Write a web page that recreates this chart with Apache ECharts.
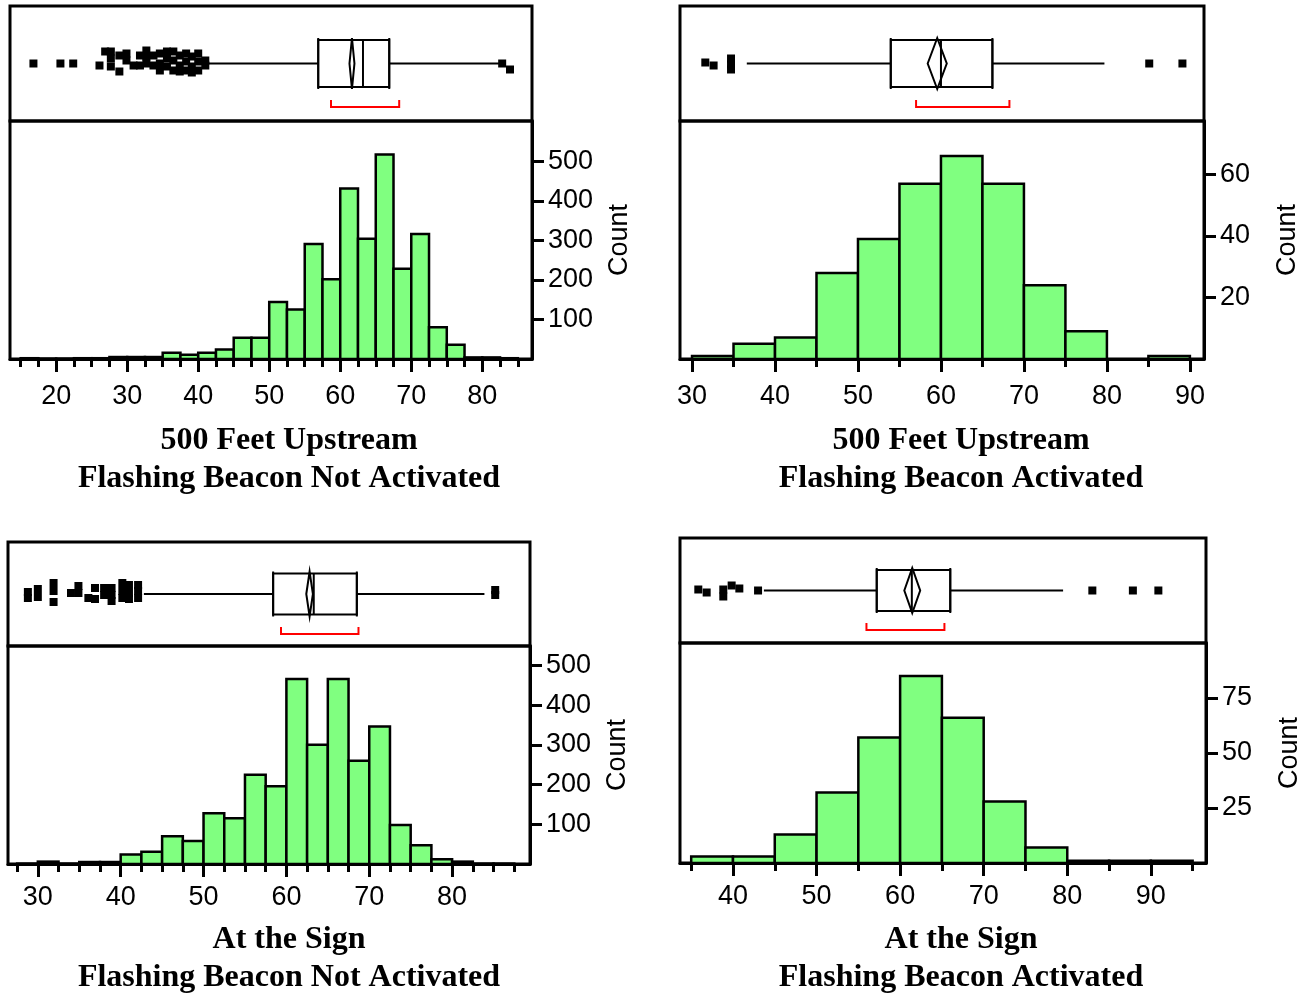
<!DOCTYPE html>
<html>
<head>
<meta charset="utf-8">
<title>Speed distributions</title>
<script src="https://cdn.jsdelivr.net/npm/echarts@6/dist/echarts.min.js"></script>
<style>
  html, body { margin: 0; padding: 0; background: #fff; }
  #chart { width: 1311px; height: 993px; }
</style>
</head>
<body>
<div id="chart"></div>
<script>
// ---- 500 ft upstream, beacon not activated ----
const edges1 = [15, 17.5, 20, 22.5, 25, 27.5, 30, 32.5, 35, 37.5, 40, 42.5, 45, 47.5, 50, 52.5, 55, 57.5, 60, 62.5, 65, 67.5, 70, 72.5, 75, 77.5, 80, 82.5, 85]
const counts1 = [2, 1, 1, 2, 2, 5, 5, 5, 16, 11, 16, 24, 54, 54, 144, 125, 291, 202, 431, 304, 517, 228, 316, 80, 36, 4, 4, 2]
const box1 = [41.3, 56.9, 63.2, 66.9, 82.5]      // whisker lo, q1, median, q3, whisker hi
const mean1 = [61.3, 62.0]                        // mean diamond
const shortHalf1 = [58.7, 68.3]
const outVals1 = [16.8, 20.6, 22.4, 26.1, 26.9, 27.7, 27.7, 27.7, 28.9, 28.9, 29.9, 29.9, 30.9, 31.8, 31.8, 32.7, 32.7, 32.7, 33.7, 33.7, 34.6, 34.6, 34.6, 35.6, 35.6, 35.6, 36.5, 36.5, 36.5, 37.4, 37.4, 37.4, 38.3, 38.3, 38.3, 39.1, 39.1, 39.1, 40.0, 40.0, 40.0, 41.0, 41.0, 82.8, 83.9]
const outJit1 = [0, 0, 0, 2, -12, -12, -5, 3, -8, 8, -10, -3, 2, -8, 2, -13, -7, 0, -8, 2, -10, 0, 7, -12, -5, 3, -12, -3, 7, -8, 2, 8, -10, -2, 7, -7, 3, 9, -10, -2, 7, -3, 2, 0, 6]
const xMajor1 = [20, 30, 40, 50, 60, 70, 80]
const xMinor1 = [15, 17.5, 22.5, 25, 27.5, 32.5, 35, 37.5, 42.5, 45, 47.5, 52.5, 55, 57.5, 62.5, 65, 67.5, 72.5, 75, 77.5, 82.5, 85]
const yTicks1 = [100, 200, 300, 400, 500]

// ---- 500 ft upstream, beacon activated ----
const edges2 = [30, 35, 40, 45, 50, 55, 60, 65, 70, 75, 80, 85, 90]
const counts2 = [1, 5, 7, 28, 39, 57, 66, 57, 24, 9, 0, 1]
const box2 = [36.6, 53.95, 60.0, 66.2, 79.7]
const mean2 = [58.4, 60.7]
const shortHalf2 = [57.0, 68.25]
const outVals2 = [31.6, 32.6, 34.7, 34.7, 34.7, 85.1, 89.1]
const outJit2 = [-1, 2, -5, 1, 6, 0, 0]
const xMajor2 = [30, 40, 50, 60, 70, 80, 90]
const xMinor2 = [35, 45, 55, 65, 75, 85]
const yTicks2 = [20, 40, 60]

// ---- at the sign, beacon not activated ----
const edges3 = [27.5, 30, 32.5, 35, 37.5, 40, 42.5, 45, 47.5, 50, 52.5, 55, 57.5, 60, 62.5, 65, 67.5, 70, 72.5, 75, 77.5, 80, 82.5, 85, 87.5]
const counts3 = [1, 6, 1, 5, 5, 24, 31, 70, 58, 128, 115, 225, 196, 466, 300, 466, 260, 346, 98, 47, 12, 6, 1, 1]
const box3 = [42.8, 58.4, 63.3, 68.5, 83.9]
const mean3 = [62.4, 63.2]
const shortHalf3 = [59.35, 68.7]
const outVals3 = [28.8, 28.8, 30.0, 30.0, 31.9, 31.9, 31.9, 34.0, 34.9, 34.9, 36.1, 36.9, 36.9, 38.0, 38.0, 38.9, 38.9, 38.9, 40.2, 40.2, 40.2, 41.0, 41.0, 41.0, 42.1, 42.1, 42.1, 85.2, 85.2]
const outJit3 = [-2, 4, -5, 3, -11, -3, 8, -1, -8, -1, 4, -6, 5, -6, 1, -6, 1, 7, -11, -3, 4, -9, -1, 5, -9, -3, 4, -4, 1]
const xMajor3 = [30, 40, 50, 60, 70, 80]
const xMinor3 = [27.5, 32.5, 35, 37.5, 42.5, 45, 47.5, 52.5, 55, 57.5, 62.5, 65, 67.5, 72.5, 75, 77.5, 82.5, 85, 87.5]
const yTicks3 = [100, 200, 300, 400, 500]

// ---- at the sign, beacon activated ----
const edges4 = [35, 40, 45, 50, 55, 60, 65, 70, 75, 80, 85, 90, 95]
const counts4 = [3, 3, 13, 32, 57, 85, 66, 28, 7, 1, 1, 1]
const box4 = [43.7, 57.2, 61.4, 66.0, 79.5]
const mean4 = [60.5, 62.4]
const shortHalf4 = [55.97, 65.3]
const outVals4 = [35.85, 36.85, 38.84, 38.84, 39.84, 40.76, 43.0, 83.0, 87.85, 90.9]
const outJit4 = [-1, 2, -1, 6, -5, -2, 0, 0, 0, 0]
const xMajor4 = [40, 50, 60, 70, 80, 90]
const xMinor4 = [35, 45, 55, 65, 75, 85, 95]
const yTicks4 = [25, 50, 75]

const BLACK = '#000'
const GREEN = '#80ff80'
const SANS = 'Liberation Sans'
const SERIF = 'Liberation Serif'

const option = {
  animation: false,
  backgroundColor: '#fff',
  title: [],
  grid: [],
  xAxis: [],
  yAxis: [],
  series: []
}

function histItem(params, api) {
  const a = api.coord([api.value(0), api.value(2)])
  const b = api.coord([api.value(1), 0])
  if (api.value(2) <= 0) return null
  return {
    type: 'rect',
    shape: { x: a[0], y: a[1], width: b[0] - a[0], height: b[1] - a[1] },
    style: { fill: GREEN, stroke: BLACK, lineWidth: 2.5 }
  }
}

// box, whiskers, median, mean diamond and shortest-half bracket
function boxItem(hh, by) {
  return function (params, api) {
    const pt = (i, y) => api.coord([api.value(i), y])
    const line = (a, b, color) => ({
      type: 'line',
      shape: { x1: a[0], y1: a[1], x2: b[0], y2: b[1] },
      style: { stroke: color || BLACK, lineWidth: 2 }
    })
    const top = pt(1, -hh)
    const bot = pt(3, hh)
    const mLo = pt(5, 0)
    const mHi = pt(6, 0)
    const mx = (mLo[0] + mHi[0]) / 2
    const sLo = pt(7, by)
    const sHi = pt(8, by)
    return {
      type: 'group',
      children: [
        line(pt(0, 0), pt(1, 0)),
        line(pt(3, 0), pt(4, 0)),
        {
          type: 'rect',
          shape: { x: top[0], y: top[1], width: bot[0] - top[0], height: bot[1] - top[1] },
          style: { fill: 'none', stroke: BLACK, lineWidth: 2 }
        },
        // small end marks just past the box corners
        line([top[0], top[1] - 2], [top[0], bot[1] + 2]),
        line([bot[0], top[1] - 2], [bot[0], bot[1] + 2]),
        line(pt(2, -hh), pt(2, hh)),
        {
          type: 'polygon',
          shape: { points: [mLo, [mx, top[1] - 2], mHi, [mx, bot[1] + 2]] },
          style: { fill: 'none', stroke: BLACK, lineWidth: 2 }
        },
        line(sLo, sHi, '#ff0000'),
        line([sLo[0], sLo[1] - 7], [sLo[0], sLo[1] + 1], '#ff0000'),
        line([sHi[0], sHi[1] - 7], [sHi[0], sHi[1] + 1], '#ff0000')
      ]
    }
  }
}

function addPanel(p) {
  const g = option.grid.length
  const xi = option.xAxis.length
  const yi = option.yAxis.length
  const frame = { show: true, borderColor: BLACK, borderWidth: 3, backgroundColor: 'transparent' }
  option.grid.push(Object.assign({ left: p.left, top: p.top, width: p.width, height: p.stripH }, frame))
  option.grid.push(Object.assign({ left: p.left, top: p.top + p.stripH, width: p.width, height: p.histH }, frame))

  // strip (box plot) axes, hidden
  option.xAxis.push({ type: 'value', gridIndex: g, min: p.xMin, max: p.xMax, show: false })
  option.yAxis.push({ type: 'value', gridIndex: g, min: -p.stripH / 2, max: p.stripH / 2, inverse: true, show: false })

  const labelFont = { color: BLACK, fontFamily: SANS, fontSize: 27 }
  // histogram x: major ticks + labels
  option.xAxis.push({
    type: 'value', gridIndex: g + 1, min: p.xMin, max: p.xMax, position: 'bottom',
    splitLine: { show: false },
    axisLine: { lineStyle: { color: BLACK, width: 3 } },
    axisTick: { customValues: p.major, length: 13, lineStyle: { color: BLACK, width: 3 } },
    axisLabel: Object.assign({ customValues: p.major, margin: p.labelMargin }, labelFont)
  })
  // histogram x: minor ticks
  option.xAxis.push({
    type: 'value', gridIndex: g + 1, min: p.xMin, max: p.xMax, position: 'bottom',
    splitLine: { show: false },
    axisLine: { show: false },
    axisTick: { customValues: p.minor, length: 8, lineStyle: { color: BLACK, width: 3 } },
    axisLabel: { show: false }
  })
  option.yAxis.push({
    type: 'value', gridIndex: g + 1, min: 0, max: p.yMax, position: 'right',
    name: 'Count', nameLocation: 'middle', nameGap: p.nameGap, nameRotate: 90,
    nameTextStyle: labelFont,
    splitLine: { show: false },
    axisLine: { lineStyle: { color: BLACK, width: 3 } },
    axisTick: { customValues: p.yTicks, length: 12, lineStyle: { color: BLACK, width: 3 } },
    axisLabel: Object.assign({ customValues: p.yTicks, margin: 16 }, labelFont)
  })

  option.series.push({
    type: 'custom',
    xAxisIndex: xi + 1,
    yAxisIndex: yi + 1,
    renderItem: histItem,
    encode: { x: [0, 1], y: 2 },
    data: p.counts.map((c, i) => [p.edges[i], p.edges[i + 1], c])
  })
  option.series.push({
    type: 'custom',
    xAxisIndex: xi,
    yAxisIndex: yi,
    renderItem: boxItem(p.boxHalf, p.bracketY),
    encode: { x: [0, 1, 2, 3, 4, 5, 6, 7, 8] },
    data: [p.box.concat(p.mean, p.shortHalf)]
  })
  option.series.push({
    type: 'scatter',
    xAxisIndex: xi,
    yAxisIndex: yi,
    symbol: 'rect',
    symbolSize: 8,
    itemStyle: { color: BLACK, opacity: 1 },
    z: 3,
    data: p.outVals.map((v, i) => [v, p.outJit[i]])
  })

  option.title.push({
    text: p.title,
    left: p.titleX,
    top: p.titleTop,
    padding: 0,
    textAlign: 'center',
    textStyle: { color: BLACK, fontFamily: SERIF, fontWeight: 'bold', fontSize: 32, lineHeight: 38 }
  })
}

addPanel({
  left: 10, top: 6, width: 522, stripH: 115, histH: 238,
  xMin: 13.5, xMax: 87.0, yMax: 602, nameGap: 74, labelMargin: 24,
  boxHalf: 23.5, bracketY: 43.5,
  edges: edges1, counts: counts1, box: box1, mean: mean1, shortHalf: shortHalf1,
  outVals: outVals1, outJit: outJit1, major: xMajor1, minor: xMinor1, yTicks: yTicks1,
  title: '500 Feet Upstream\nFlashing Beacon Not Activated', titleX: 289, titleTop: 422
})
addPanel({
  left: 680, top: 6, width: 524, stripH: 115, histH: 238,
  xMin: 28.55, xMax: 91.7, yMax: 77.4, nameGap: 70, labelMargin: 24,
  boxHalf: 23.5, bracketY: 43.5,
  edges: edges2, counts: counts2, box: box2, mean: mean2, shortHalf: shortHalf2,
  outVals: outVals2, outJit: outJit2, major: xMajor2, minor: xMinor2, yTicks: yTicks2,
  title: '500 Feet Upstream\nFlashing Beacon Activated', titleX: 961, titleTop: 422
})
addPanel({
  left: 8, top: 542, width: 522, stripH: 104, histH: 218,
  xMin: 26.4, xMax: 89.4, yMax: 549, nameGap: 74, labelMargin: 20,
  boxHalf: 20.5, bracketY: 40,
  edges: edges3, counts: counts3, box: box3, mean: mean3, shortHalf: shortHalf3,
  outVals: outVals3, outJit: outJit3, major: xMajor3, minor: xMinor3, yTicks: yTicks3,
  title: 'At the Sign\nFlashing Beacon Not Activated', titleX: 289, titleTop: 921
})
addPanel({
  left: 680, top: 538, width: 526, stripH: 105, histH: 220,
  xMin: 33.66, xMax: 96.6, yMax: 100, nameGap: 70, labelMargin: 20,
  boxHalf: 20.5, bracketY: 39.5,
  edges: edges4, counts: counts4, box: box4, mean: mean4, shortHalf: shortHalf4,
  outVals: outVals4, outJit: outJit4, major: xMajor4, minor: xMinor4, yTicks: yTicks4,
  title: 'At the Sign\nFlashing Beacon Activated', titleX: 961, titleTop: 921
})

const chart = echarts.init(document.getElementById('chart'))
chart.setOption(option)
window.addEventListener('resize', () => chart.resize())
</script>
</body>
</html>
